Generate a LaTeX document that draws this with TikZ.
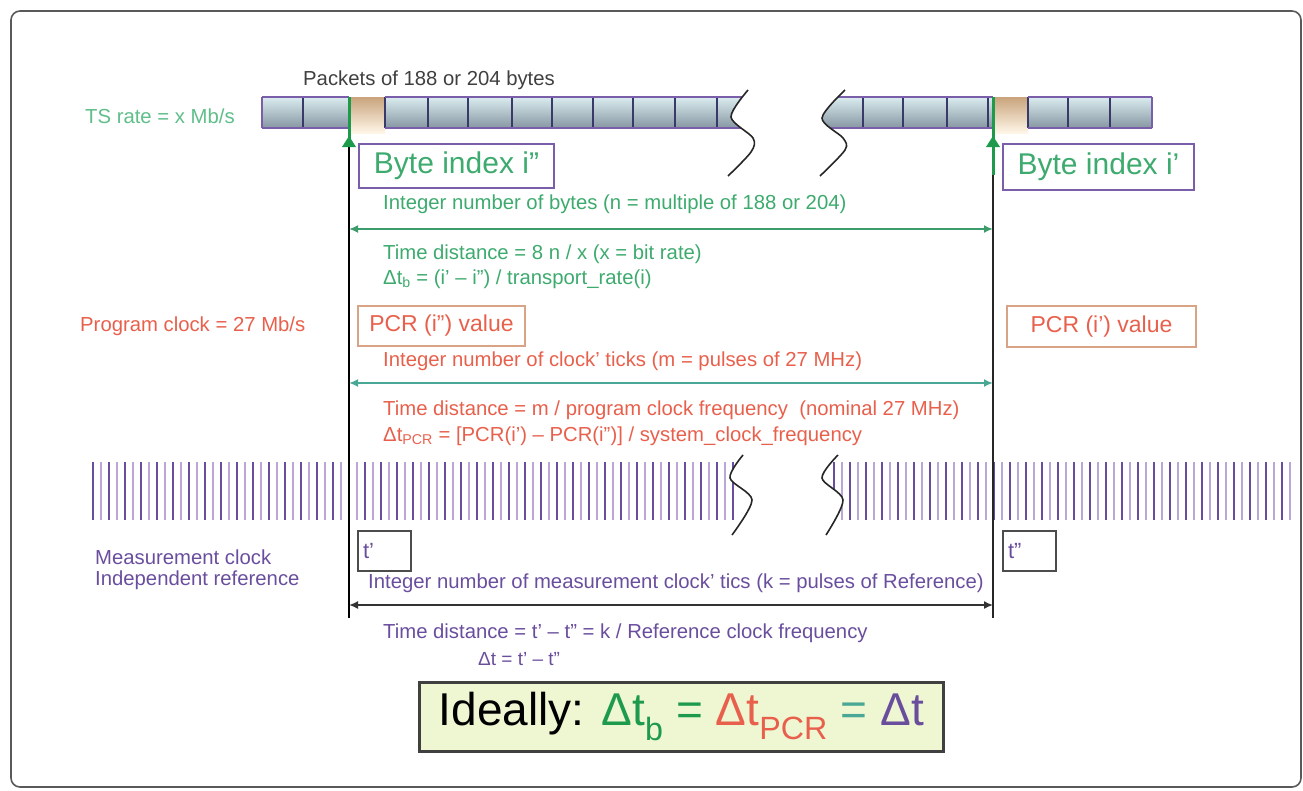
\documentclass[tikz,border=0pt]{standalone}
\usepackage{fontspec}
\setmainfont{Liberation Sans}
\usetikzlibrary{arrows.meta}
\definecolor{cgreen}{HTML}{3DAA6E}
\definecolor{cgreenlt}{HTML}{5FBE8A}
\definecolor{cgreenln}{HTML}{1E9A4C}
\definecolor{cgarrow}{HTML}{3C9C6C}
\definecolor{cred}{HTML}{E8604C}
\definecolor{cteal}{HTML}{48A895}
\definecolor{cpurple}{HTML}{6A4E9E}
\definecolor{cpurplelt}{HTML}{B9A8D6}
\definecolor{cboxpurple}{HTML}{7B5EAA}
\definecolor{cpcrbox}{HTML}{D9A385}
\definecolor{barT}{HTML}{DAECEF}
\definecolor{barM}{HTML}{B4C8C6}
\definecolor{barB}{HTML}{8797A3}
\definecolor{barDiv}{HTML}{3A3A6A}
\definecolor{orT}{HTML}{C9A47C}
\definecolor{orM}{HTML}{EE9A50}
\definecolor{orB}{HTML}{FFF6E8}
\definecolor{yelbox}{HTML}{EEF6D2}
\newcommand\fsz[1]{\fontsize{#1}{#1}\selectfont}
\begin{document}
\begin{tikzpicture}[x=1pt,y=-1pt,
  lbl/.style={inner sep=0pt, anchor=west, font=\fsz{20.3}},
  bigbox/.style={draw, line width=2pt, inner sep=0pt, anchor=north west},
  tbox/.style={draw=black!70, line width=2pt, inner ysep=0pt, inner xsep=5pt, text width=43pt, align=left, minimum height=40pt, anchor=north west, text=cpurple, font=\fsz{22}},
  divline/.style={barDiv, line width=2pt},
  bord/.style={cboxpurple, line width=2pt},
  wave/.style={black!85, line width=1.6pt},
  tip/.style={{Latex[length=9pt,width=8pt]}-{Latex[length=9pt,width=8pt]}}
]
\useasboundingbox (0,0) rectangle (1303,790);
% outer frame
\draw[black!65, line width=1.6pt, rounded corners=9] (11,11) rectangle (1301,787);

% ---------- packet bar, left part
\shade[top color=barT, middle color=barM, bottom color=barB] (262,97) rectangle (752,128);
\shade[top color=orT, middle color=orM, bottom color=orB] (349,97) rectangle (385,133);
\foreach \xx in {303,385,428,468,512,552,593,633,675,717}
  \draw[divline] (\xx,97) -- (\xx,128);
\draw[bord] (262,97) -- (349,97) (385,97) -- (752,97);
\draw[bord] (262,128) -- (349,128) (385,128) -- (752,128);
\draw[bord] (262,97) -- (262,128);
\fill[white] plot[smooth] coordinates {(748,90) (731,117) (753,138) (751,152) (728,176)} -- (790,176) -- (790,90) -- cycle;
\draw[wave] plot[smooth] coordinates {(748,90) (731,117) (753,138) (751,152) (728,176)};

% ---------- packet bar, right part
\shade[top color=barT, middle color=barM, bottom color=barB] (812,97) rectangle (1152,128);
\shade[top color=orT, middle color=orM, bottom color=orB] (993,97) rectangle (1028,133);
\foreach \xx in {863,903,947,988,1028,1068,1110}
  \draw[divline] (\xx,97) -- (\xx,128);
\draw[bord] (812,97) -- (993,97) (1028,97) -- (1152,97);
\draw[bord] (812,128) -- (993,128) (1028,128) -- (1152,128);
\draw[bord] (1152,97) -- (1152,128);
\fill[white] plot[smooth] coordinates {(845,90) (822,118) (843,138) (845,150) (820,176)} -- (795,176) -- (795,90) -- cycle;
\draw[wave] plot[smooth] coordinates {(845,90) (822,118) (843,138) (845,150) (820,176)};

% ---------- clock ticks
\foreach \i in {0,...,80} {
  \pgfmathsetmacro\xx{93+8*\i}
  \ifodd\i \draw[cpurplelt, line width=2.6pt] (\xx,462) -- (\xx,520);
  \else \draw[cpurple, line width=2.6pt] (\xx,462) -- (\xx,520); \fi
}
\foreach \i in {0,...,57} {
  \pgfmathsetmacro\xx{834+8*\i}
  \ifodd\i \draw[cpurplelt, line width=2.6pt] (\xx,462) -- (\xx,520);
  \else \draw[cpurple, line width=2.6pt] (\xx,462) -- (\xx,520); \fi
}
\fill[white] plot[smooth] coordinates {(743,455) (730,478) (752,500) (732,535)} -- (790,535) -- (790,455) -- cycle;
\fill[white] plot[smooth] coordinates {(838,455) (822,478) (843,500) (826,535)} -- (795,535) -- (795,455) -- cycle;
\draw[wave] plot[smooth] coordinates {(743,455) (730,478) (752,500) (732,535)};
\draw[wave] plot[smooth] coordinates {(838,455) (822,478) (843,500) (826,535)};

% ---------- vertical reference lines
\coordinate (Ltop) at (349,138);
\coordinate (Lbot) at (349,618);
\coordinate (Rtop) at (993,175);
\coordinate (Rbot) at (993,618);
\draw[black, line width=2pt] (Ltop) -- (Lbot);
\draw[black!85, line width=2pt] (Rtop) -- (Rbot);
\coordinate (Lg1) at (349,97);
\coordinate (Lg2) at (349,146);
\coordinate (Rg1) at (993,97);
\coordinate (Rg2) at (993,175);
\draw[cgreenln, line width=3pt] (Lg1) -- (Lg2);
\draw[cgreenln, line width=3pt] (Rg1) -- (Rg2);
\fill[cgreenln] (342,147) -- (356,147) -- (349,136) -- cycle;
\fill[cgreenln] (986,147) -- (1000,147) -- (993,136) -- cycle;

% ---------- labels on the left
\node[lbl, text=black!75] (packets) at (303,80) {Packets of 188 or 204 bytes};
\node[lbl, text=cgreenlt] (tsrate) at (85,116) {TS rate = x Mb/s};
\node[lbl, text=cred] (pclock) at (80,326) {Program clock = 27 Mb/s};
\node[lbl, text=cpurple] (mclock) at (95,557) {Measurement clock};
\node[lbl, text=cpurple] (indref) at (95,580) {Independent reference};

% ---------- byte index boxes
\node[bigbox, draw=cboxpurple, text=cgreen, font=\fsz{30}, minimum width=195pt, minimum height=44pt] (bi2) at (358,143) {Byte index i''};
\node[bigbox, draw=cboxpurple, text=cgreen, font=\fsz{30}, minimum width=191pt, minimum height=46pt] (bi1) at (1002,143) {Byte index i'};

% ---------- byte distance
\node[lbl, text=cgreen] (intbytes) at (383,204) {Integer number of bytes (n = multiple of 188 or 204)};
\coordinate (ga1) at (349,229);
\coordinate (ga2) at (993,229);
\draw[cgarrow, line width=2.2pt, tip] (ga1) -- (ga2);
\node[lbl, text=cgreen] (tdb) at (383,254) {Time distance = 8 n / x (x = bit rate)};
\node[lbl, text=cgreen] (dtb) at (383,279) {Δt\textsubscript{b} = (i' – i'') / transport\_rate(i)};

% ---------- PCR boxes
\node[bigbox, draw=cpcrbox, text=cred, font=\fsz{23}, minimum width=167pt, minimum height=40pt] (pcr2) at (357,305) {PCR (i'') value};
\node[bigbox, draw=cpcrbox, text=cred, font=\fsz{23}, minimum width=189pt, minimum height=41pt] (pcr1) at (1006,305) {PCR (i') value};

\node[lbl, text=cred] (intticks) at (383,361) {Integer number of clock' ticks (m = pulses of 27 MHz)};
\coordinate (ta1) at (349,383);
\coordinate (ta2) at (993,383);
\draw[cteal, line width=2.2pt, tip] (ta1) -- (ta2);
\node[lbl, text=cred] (tdpcr) at (383,410) {Time distance = m / program clock frequency\ \ (nominal 27 MHz)};
\node[lbl, text=cred] (dtpcr) at (383,436) {Δt\textsubscript{PCR} = [PCR(i') – PCR(i'')] / system\_clock\_frequency};

% ---------- measurement clock boxes
\node[tbox] (t1) at (357,530) {t'};
\node[tbox] (t2) at (1002,530) {t''};

\node[lbl, text=cpurple] (intk) at (368,583) {Integer number of measurement clock' tics (k = pulses of Reference)};
\coordinate (ka1) at (349,605);
\coordinate (ka2) at (993,605);
\draw[black!80, line width=1.6pt, tip] (ka1) -- (ka2);
\node[lbl, text=cpurple] (tdk) at (383,633) {Time distance = t' – t'' = k / Reference clock frequency};
\node[lbl, text=cpurple, font=\fsz{19}] (dt) at (478,659) {Δt = t' – t''};

% ---------- summary box
\node[draw=black!75, line width=2.5pt, fill=yelbox, inner sep=0pt, minimum width=524pt, minimum height=69pt, anchor=north west, font=\fsz{46}] (ideal) at (418,681)
 {Ideally: {\color{cgreenln}Δt\textsubscript{b} =} {\color{cred}Δt\textsubscript{PCR}} {\color{cteal}=} {\color{cpurple}Δt}};
\end{tikzpicture}
\end{document}
